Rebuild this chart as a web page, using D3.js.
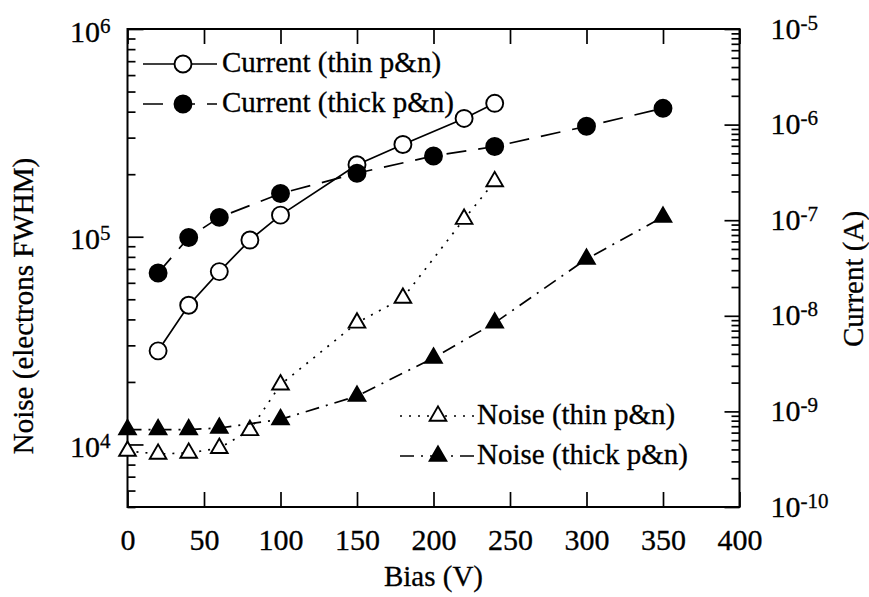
<!DOCTYPE html>
<html lang="en">
    <head>
        <meta charset="utf-8">
        <title>Noise and current vs bias</title>
        <script type="text/javascript" src="https://cdn.jsdelivr.net/npm/d3@7"></script>
        <style>
            body { margin: 0; background: #fff; }
            svg text { font-family: "Liberation Serif", "Times New Roman", serif; fill: #000; stroke: #000; stroke-width: 0.3px; }
        </style>
    </head>
    <body>
        <script type="text/javascript">
            //Width and height
            var w = 869;
            var h = 597;

            //bias (V) and values
            var biasCurrentThin = [20, 40, 60, 80, 100, 150, 180, 220, 240];
            var currentThin = [4.3e-9, 1.29e-8, 2.9e-8, 6.2e-8, 1.13e-7, 3.8e-7, 6.2e-7, 1.16e-6, 1.67e-6];
            var biasCurrentThick = [20, 40, 60, 100, 150, 200, 240, 300, 350];
            var currentThick = [2.8e-8, 6.6e-8, 1.07e-7, 1.9e-7, 3.1e-7, 4.7e-7, 5.9e-7, 9.6e-7, 1.48e-6];
            var biasNoiseThin = [0, 20, 40, 60, 80, 100, 150, 180, 220, 240];
            var noiseThin = [9300, 9000, 9100, 9600, 11700, 19400, 38500, 50700, 121600, 184500];
            var biasNoiseThick = [0, 20, 40, 60, 100, 150, 200, 240, 300, 350];
            var noiseThick = [11800, 11800, 11800, 12000, 13200, 17100, 26100, 38500, 78100, 124400];

            //tick values
            var xTicks = [0, 50, 100, 150, 200, 250, 300, 350, 400];
            var noiseTicks = [1e4, 1e5, 1e6];
            var currentTicks = [1e-10, 1e-9, 1e-8, 1e-7, 1e-6, 1e-5];

            var legendTop = ["Current (thin p&n)", "Current (thick p&n)"];
            var legendBottom = ["Noise (thin p&n)", "Noise (thick p&n)"];

            //plot box (don't call these top/left, window.top is taken)
            var boxL = 127.5, boxR = 739.5, boxT = 29, boxB = 507;

            var svg = d3.select("body").append("svg").attr("width", w).attr("height", h);

            var x = d3.scaleLinear().domain([0, 400]).range([boxL, boxR]);
            var yNoise = d3.scaleLog().domain([5e3, 1e6]).range([boxB, boxT]);
            var yCur = d3.scaleLog().domain([1e-10, 1e-5]).range([boxB, boxT]);

            //minor ticks come from the log scales themselves
            var noiseMinor = yNoise.ticks().filter(function(d) { return noiseTicks.indexOf(d) < 0; });
            var curMinor = yCur.ticks().filter(function(d) {
                return currentTicks.every(function(t) { return Math.abs(t - d) / t > 1e-6; });
            });

            function styleAxis(g, size) {
                g.attr("font-size", size).attr("font-family", null);
                g.select(".domain").remove();
                g.selectAll(".tick line").attr("stroke-width", 1.7);
            }

            //write labels as 10 with a superscript exponent
            function powerLabels(g, dy) {
                g.selectAll(".tick text").each(function(d) {
                    var t = d3.select(this).text(null).attr("dy", dy);
                    t.append("tspan").text("10");
                    t.append("tspan").attr("dy", "-0.42em").attr("font-size", 21)
                        .text(Math.round(Math.log10(d)));
                });
            }

            //bottom and top axes
            svg.append("g").attr("transform", "translate(0," + boxB + ")")
                .call(d3.axisBottom(x).tickValues(xTicks).tickSizeInner(-15).tickSizeOuter(0).tickPadding(22))
                .call(styleAxis, 30);
            svg.append("g").attr("transform", "translate(0," + boxT + ")")
                .call(d3.axisTop(x).tickValues(xTicks).tickSizeInner(-15).tickSizeOuter(0).tickFormat(""))
                .call(styleAxis, 30);

            //left axis (noise)
            svg.append("g").attr("transform", "translate(" + boxL + ",0)")
                .call(d3.axisLeft(yNoise).tickValues(noiseTicks).tickSizeInner(-16).tickSizeOuter(0).tickPadding(17))
                .call(styleAxis, 30)
                .call(powerLabels, "0.4em");
            svg.append("g").attr("transform", "translate(" + boxL + ",0)")
                .call(d3.axisLeft(yNoise).tickValues(noiseMinor).tickSizeInner(-8).tickSizeOuter(0).tickFormat(""))
                .call(styleAxis, 30);

            //right axis (current)
            svg.append("g").attr("transform", "translate(" + boxR + ",0)")
                .call(d3.axisRight(yCur).tickValues(currentTicks).tickSizeInner(-15).tickSizeOuter(0).tickPadding(31))
                .call(styleAxis, 30)
                .call(powerLabels, "0.3em");
            svg.append("g").attr("transform", "translate(" + boxR + ",0)")
                .call(d3.axisRight(yCur).tickValues(curMinor).tickSizeInner(-8).tickSizeOuter(0).tickFormat(""))
                .call(styleAxis, 30);

            //frame
            svg.append("rect")
                .attr("x", boxL).attr("y", boxT)
                .attr("width", boxR - boxL).attr("height", boxB - boxT)
                .attr("fill", "none").attr("stroke", "#000").attr("stroke-width", 2);

            //axis titles
            svg.append("text")
                .attr("transform", "translate(33," + 306 + ") rotate(-90)")
                .attr("text-anchor", "middle").attr("font-size", 29)
                .text("Noise (electrons FWHM)");
            svg.append("text")
                .attr("transform", "translate(863," + 279 + ") rotate(-90)")
                .attr("text-anchor", "middle").attr("font-size", 29)
                .text("Current (A)");
            svg.append("text")
                .attr("x", x(200)).attr("y", 586)
                .attr("text-anchor", "middle").attr("font-size", 29)
                .text("Bias (V)");

            //series: bias, values, y scale, dash, marker
            var series = [
                { b: biasCurrentThin, v: currentThin, y: yCur, dash: null, shape: "circle", fill: "#fff" },
                { b: biasCurrentThick, v: currentThick, y: yCur, dash: "20,12", shape: "circle", fill: "#000" },
                { b: biasNoiseThin, v: noiseThin, y: yNoise, dash: "2,7", shape: "triangle", fill: "#fff" },
                { b: biasNoiseThick, v: noiseThick, y: yNoise, dash: "14,7,2,7", shape: "triangle", fill: "#000" }
            ];

            var circleSym = d3.symbol().type(d3.symbolCircle).size(Math.PI * 8.5 * 8.5);
            var triSym = d3.symbol().type(d3.symbolTriangle).size(120);

            series.forEach(function(s) {
                var pts = s.b.map(function(d, i) { return [x(d), s.y(s.v[i])]; });
                svg.append("path")
                    .attr("d", d3.line()(pts))
                    .attr("fill", "none")
                    .attr("stroke", "#000")
                    .attr("stroke-width", 1.7)
                    .attr("stroke-dasharray", s.dash);
                svg.selectAll(null)
                    .data(pts)
                    .enter()
                    .append("path")
                    .attr("transform", function(d) { return "translate(" + d[0] + "," + d[1] + ")"; })
                    .attr("d", s.shape == "circle" ? circleSym() : triSym())
                    .attr("fill", s.fill)
                    .attr("stroke", "#000")
                    .attr("stroke-width", 1.9);
            });

            //legends
            function legendRow(s, label, x0, x1, xm, y, tx) {
                svg.append("line")
                    .attr("x1", x0).attr("x2", x1).attr("y1", y).attr("y2", y)
                    .attr("stroke", "#000").attr("stroke-width", 1.7)
                    .attr("stroke-dasharray", s.dash);
                svg.append("path")
                    .attr("transform", "translate(" + xm + "," + y + ")")
                    .attr("d", s.shape == "circle" ? circleSym() : triSym())
                    .attr("fill", s.fill).attr("stroke", "#000").attr("stroke-width", 1.9);
                svg.append("text")
                    .attr("x", tx).attr("y", y + 8)
                    .attr("font-size", 29)
                    .text(label);
            }
            legendRow(series[0], legendTop[0], 143, 217, 183, 64, 222);
            legendRow(series[1], legendTop[1], 143, 217, 183, 104, 222);
            legendRow(series[2], legendBottom[0], 400, 476, 438, 416, 477);
            legendRow(series[3], legendBottom[1], 400, 476, 438, 456, 477);
        </script>
    </body>
</html>
